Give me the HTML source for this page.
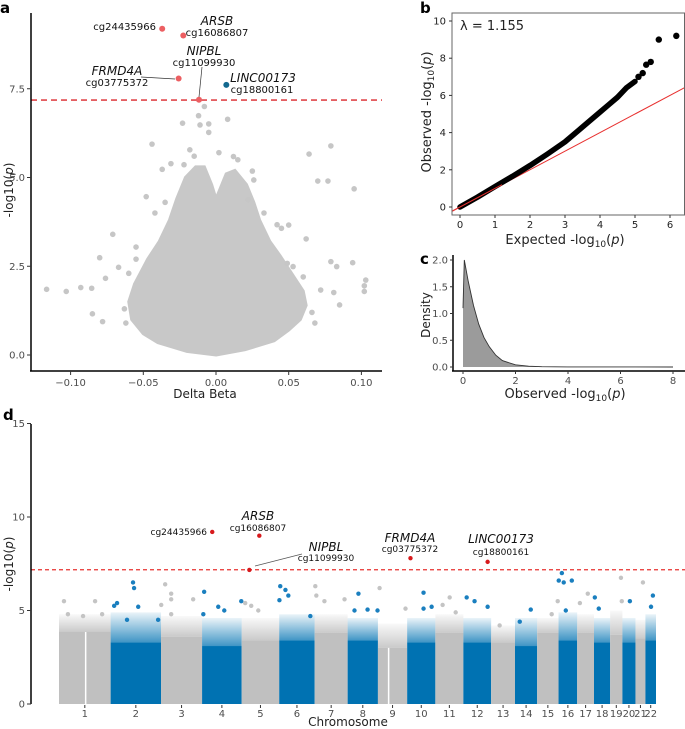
<!DOCTYPE html>
<html><head><meta charset="utf-8">
<style>
html,body{margin:0;padding:0;background:#fff;}
svg{display:block;font-family:"DejaVu Sans","Liberation Sans",sans-serif;}
.tk{font-size:10px;fill:#4d4d4d;}
.lab{font-size:12px;fill:#222;}
.pl{font-size:15px;font-weight:bold;fill:#000;}
.gene{font-size:12px;font-style:italic;fill:#111;}
.id{font-size:10px;fill:#111;}
</style></head>
<body>
<svg id="fig" width="685" height="729" viewBox="0 0 685 729">
<defs>
<linearGradient id="gBlue" x1="0" y1="1" x2="0" y2="0"><stop offset="0" stop-color="#0072b2" stop-opacity="0.75"/><stop offset="1" stop-color="#0072b2" stop-opacity="0.08"/></linearGradient>
<linearGradient id="gGray" x1="0" y1="1" x2="0" y2="0"><stop offset="0" stop-color="#c0c0c0" stop-opacity="0.85"/><stop offset="1" stop-color="#c0c0c0" stop-opacity="0.1"/></linearGradient>
<clipPath id="cb"><rect x="452" y="13" width="233" height="202"/></clipPath>
<clipPath id="cc"><rect x="453" y="250" width="232" height="121"/></clipPath>
</defs>
<g id="pa"></g>
<g id="pb"></g>
<g id="pc"></g>
<g id="pd"></g>
</svg>
<script>
// ===== Panel a: volcano data =====
const volcCloudBeta=[0,0.02,0.04,0.05,0.058,0.062,0.06,0.052,0.044,0.037,0.03,0.026,0.021,0.013,0.007,0.003,0,-0.003,-0.008,-0.014,-0.021,-0.027,-0.032,-0.039,-0.047,-0.056,-0.06,-0.058,-0.05,-0.04,-0.02];
const volcCloudP=[0,0.15,0.4,0.7,1.0,1.4,1.8,2.3,2.8,3.2,3.8,4.3,4.8,5.2,5.1,4.7,4.4,4.8,5.3,5.3,5.0,4.4,3.8,3.2,2.7,2.0,1.5,1.0,0.6,0.35,0.1];
const volcBeta=[-0.1165,-0.103,-0.093,-0.0855,-0.085,-0.078,-0.080,-0.076,-0.071,-0.067,-0.055,-0.055,-0.048,-0.044,-0.042,-0.037,-0.031,-0.023,-0.022,-0.018,-0.012,-0.011,-0.008,-0.005,-0.005,0.002,0.008,0.012,0.025,0.026,0.022,0.042,0.05,0.045,0.062,0.064,0.070,0.077,0.079,0.095,0.094,0.079,0.083,0.103,0.102,0.102,0.085,0.081,0.072,0.049,0.053,-0.063,-0.062,-0.06,0.066,0.068,0.06,-0.035,0.033,-0.015,0.015];
const volcP=[1.85,1.79,1.9,1.88,1.16,0.94,2.74,2.16,3.40,2.47,3.04,2.7,4.46,5.94,4.0,5.23,5.39,6.53,5.36,5.78,6.74,6.48,7.0,6.51,6.27,5.7,6.64,5.59,5.18,4.93,4.37,3.67,3.66,3.57,3.27,5.66,4.9,4.9,5.89,4.68,2.6,2.63,2.49,2.11,1.95,1.79,1.41,1.76,1.83,2.58,2.49,1.3,0.9,2.3,1.2,0.9,2.2,4.3,4.0,5.6,5.5];
const hitIds=["cg24435966","cg16086807","cg03775372","cg11099930","cg18800161"];
const hitGenes=["","ARSB","FRMD4A","NIPBL","LINC00173"];
const hitBeta=[-0.037,-0.0225,-0.0257,-0.0117,0.0071];
const hitP=[9.19,9.0,7.79,7.19,7.61];
const volcXTicks=[-0.10,-0.05,0.00,0.05,0.10];
const volcXTickLabels=["\u22120.10","\u22120.05","0.00","0.05","0.10"];
const volcYTicks=[0,2.5,5,7.5];
const volcYTickLabels=["0.0","2.5","5.0","7.5"];
const sigThreshold=7.18;

// ===== Panel b: QQ data =====
const qqExp=[0,0.5,1,1.5,2,2.5,3,3.5,4,4.25,4.5,4.75,5.0];
const qqObs=[0,0.53,1.1,1.65,2.23,2.85,3.5,4.3,5.1,5.5,5.9,6.4,6.75];
const qqTopExp=[5.1,5.22,5.32,5.45,5.68,6.18];
const qqTopObs=[7.0,7.2,7.65,7.8,9.0,9.2];
const qqXTicks=[0,1,2,3,4,5,6];
const qqYTicks=[0,2,4,6,8,10];
const lambdaText="\u03bb = 1.155";

// ===== Panel c: density data =====
const densX=[0,0.05,0.2,0.4,0.6,0.8,1.0,1.25,1.5,2,2.5,3,4,8];
const densY=[1.1,2.0,1.6,1.15,0.8,0.55,0.38,0.22,0.12,0.04,0.015,0.005,0.001,0];
const densXTicks=[0,2,4,6,8];
const densYTicks=[0,0.5,1,1.5,2];
const densYTickLabels=["0.0","0.5","1.0","1.5","2.0"];

// ===== Panel d: manhattan data =====
const chromNames=["1","2","3","4","5","6","7","8","9","10","11","12","13","14","15","16","17","18","19","20","21","22"];
const chromLenMb=[249,243,198,191,181,171,159,146,141,136,135,134,115,107,103,90,81,78,59,63,48,51];
const chromDenseTop=[3.85,3.3,3.6,3.1,3.4,3.4,3.8,3.4,3.0,3.3,3.8,3.3,3.3,3.1,3.8,3.4,3.8,3.3,3.7,3.3,3.5,3.4];
const chromSparseTop=[4.8,4.9,4.7,4.6,4.6,4.8,4.8,4.6,4.3,4.6,4.8,4.6,4.2,4.6,4.6,4.9,4.8,4.6,5.0,4.6,4.5,4.8];
const peakPos=[24,43,116,174,208,266,280,357,362,382,328,478,493,512,541,541,647,541,696,700,768,797,879,898,927,961,1067,1092,1106,1063,1212,1236,1241,1280,1377,1444,1425,1488,1536,1546,1671,1758,1758,1797,1884,1850,1913,1966,2004,2067,2125,2275,2222,2405,2376,2425,2410,2434,2473,2444,2550,2512,2584,2603,2710,2714,2753,2816,2864,2855];
const peakP=[5.5,4.8,4.7,5.5,4.8,5.25,5.4,6.5,6.2,5.2,4.5,4.5,5.3,6.4,5.9,5.6,5.6,4.8,4.8,6.0,5.2,5.0,5.5,5.4,5.25,5.0,6.3,6.1,5.8,5.55,4.7,6.3,5.8,5.5,5.6,5.9,5.0,5.05,5.0,6.2,5.1,5.95,5.1,5.2,5.7,5.3,4.9,5.7,5.5,5.2,4.2,5.05,4.4,5.5,4.8,7.0,6.6,6.5,6.6,5.0,5.9,5.4,5.7,5.1,6.75,5.5,5.5,6.5,5.8,5.2];
const mhHitIds=["cg24435966","cg16086807","cg11099930","cg03775372","cg18800161"];
const mhHitGenes=["","ARSB","NIPBL","FRMD4A","LINC00173"];
const mhHitPos=[739,966,918,1695,2067];
const mhHitP=[9.2,9.0,7.17,7.8,7.6];
const mhYTicks=[0,5,10,15];

const NS="http://www.w3.org/2000/svg";
function mk(parent,tag,attrs,name){
  const e=document.createElementNS(NS,tag);
  for(const k in attrs) e.setAttribute(k,attrs[k]);
  
  
  parent.appendChild(e);return e;
}
function txt(parent,x,y,s,cls,anchor,name,extra){
  const a=Object.assign({x:x,y:y,class:cls,'text-anchor':anchor||'start'},extra||{});
  const t=mk(parent,'text',a,name);t.textContent=s;return t;
}

// ---- Panel a ----
(function(){
  const g=document.getElementById('pa');
  const xA=v=>216+v*1454, yA=v=>355-v*35.5;
  txt(g,0,13,"a","pl","start","panel-label-a");
  let pts=volcCloudBeta.map((b,i)=>xA(b)+","+yA(volcCloudP[i])).join(" ");
  mk(g,'polygon',{points:pts,fill:'#c8c8c8',stroke:'#c8c8c8','stroke-width':3},'volcano-dense-cloud');
  volcBeta.forEach((b,i)=>{mk(g,'circle',{cx:xA(b),cy:yA(volcP[i]),r:2.8,fill:'#c6c6c6'},'volcano-point');});
  mk(g,'line',{x1:31,x2:382,y1:yA(sigThreshold),y2:yA(sigThreshold),stroke:'#e0474c','stroke-width':1.6,'stroke-dasharray':'6,4'},'significance-line');
  hitBeta.forEach((b,i)=>{mk(g,'circle',{cx:xA(b),cy:yA(hitP[i]),r:3,fill:i==4?'#13698f':'#ec5f62'},'hit-point-'+hitIds[i]);});
  txt(g,156,30,"cg24435966","id","end","label-cg24435966");
  txt(g,217,25,"ARSB","gene","middle","label-arsb");
  txt(g,217,36,"cg16086807","id","middle","label-cg16086807");
  txt(g,204,55,"NIPBL","gene","middle","label-nipbl");
  txt(g,204,66,"cg11099930","id","middle","label-cg11099930");
  txt(g,117,75,"FRMD4A","gene","middle","label-frmd4a");
  txt(g,117,86,"cg03775372","id","middle","label-cg03775372");
  txt(g,263,82,"LINC00173","gene","middle","label-linc00173");
  txt(g,262,93,"cg18800161","id","middle","label-cg18800161");
  mk(g,'line',{x1:141,y1:77,x2:175,y2:79,stroke:'#333','stroke-width':0.7},'leader-frmd4a');
  mk(g,'line',{x1:202,y1:67,x2:199,y2:97,stroke:'#333','stroke-width':0.7},'leader-nipbl');
  mk(g,'line',{x1:31,y1:13,x2:31,y2:371,stroke:'#000','stroke-width':1.5},'y-axis');
  mk(g,'line',{x1:30,y1:371,x2:382,y2:371,stroke:'#000','stroke-width':1.5},'x-axis');
  volcYTicks.forEach((v,i)=>{mk(g,'line',{x1:27,x2:31,y1:yA(v),y2:yA(v),stroke:'#333'},'y-tick');txt(g,25,yA(v)+3.5,volcYTickLabels[i],"tk","end","y-tick-label");});
  volcXTicks.forEach((v,i)=>{mk(g,'line',{x1:xA(v),x2:xA(v),y1:371,y2:375,stroke:'#333'},'x-tick');txt(g,xA(v),386,volcXTickLabels[i],"tk","middle","x-tick-label");});
  txt(g,205,398,"Delta Beta","lab","middle","x-axis-title");
  const yl=txt(g,0,0,"","lab","middle","y-axis-title",{transform:"translate(13,190) rotate(-90)"});
  yl.innerHTML='-log10(<tspan font-style="italic">p</tspan>)';
})();

// ---- Panel b ----
(function(){
  const g=document.getElementById('pb');
  const xB=v=>460+v*35, yB=v=>207-v*18.6;
  txt(g,420,13,"b","pl","start","panel-label-b");
  const cg=mk(g,'g',{'clip-path':'url(#cb)'},'qq-plot-area');
  mk(cg,'line',{x1:xB(-1),y1:yB(-1),x2:xB(7),y2:yB(7),stroke:'#e8302f','stroke-width':1},'expected-line');
  mk(cg,'polyline',{points:qqExp.map((e,i)=>xB(e)+","+yB(qqObs[i])).join(" "),fill:'none',stroke:'#000','stroke-width':5.5,'stroke-linecap':'round','stroke-linejoin':'round'},'qq-points-dense');
  mk(cg,'line',{x1:xB(-1),y1:yB(-1),x2:xB(1.2),y2:yB(1.2),stroke:'#e8302f','stroke-width':1},'expected-line-front');
  qqTopExp.forEach((e,i)=>{mk(cg,'circle',{cx:xB(e),cy:yB(qqTopObs[i]),r:3.2,fill:'#000'},'qq-point');});
  mk(g,'rect',{x:452,y:13,width:232.5,height:202,fill:'none',stroke:'#666','stroke-width':1},'qq-frame');
  qqYTicks.forEach(v=>{mk(g,'line',{x1:449,x2:452,y1:yB(v),y2:yB(v),stroke:'#333'},'y-tick');txt(g,446,yB(v)+3.5,String(v),"tk","end","y-tick-label",{style:"fill:#222"});});
  qqXTicks.forEach(v=>{mk(g,'line',{x1:xB(v),x2:xB(v),y1:215,y2:218,stroke:'#333'},'x-tick');txt(g,xB(v),228,String(v),"tk","middle","x-tick-label",{style:"fill:#222"});});
  txt(g,460,30,lambdaText,"lab","start","lambda-label",{style:"font-size:13px"});
  const xl=txt(g,565,244,"","lab","middle","x-axis-title",{style:"font-size:13px"});
  xl.innerHTML='Expected -log<tspan font-size="9" dy="3">10</tspan><tspan dy="-3">(</tspan><tspan font-style="italic">p</tspan>)';
  const yl=txt(g,0,0,"","lab","middle","y-axis-title",{transform:"translate(431,112) rotate(-90)",style:"font-size:13px"});
  yl.innerHTML='Observed -log<tspan font-size="9" dy="3">10</tspan><tspan dy="-3">(</tspan><tspan font-style="italic">p</tspan>)';
})();

// ---- Panel c ----
(function(){
  const g=document.getElementById('pc');
  const xC=v=>463+v*26.25, yC=v=>367-v*53.5;
  txt(g,420,264,"c","pl","start","panel-label-c");
  const cg=mk(g,'g',{'clip-path':'url(#cc)'},'density-area');
  let d="M"+xC(densX[0])+","+yC(0);
  densX.forEach((x,i)=>{d+=" L"+xC(x)+","+yC(densY[i]);});
  d+=" L"+xC(densX[densX.length-1])+","+yC(0)+" Z";
  mk(cg,'path',{d:d,fill:'#9b9b9b',stroke:'none'},'density-fill');
  mk(cg,'polyline',{points:densX.map((x,i)=>xC(x)+","+yC(densY[i])).join(" "),fill:'none',stroke:'#333','stroke-width':0.9},'density-curve');
  mk(g,'line',{x1:453,y1:255,x2:453,y2:371,stroke:'#000','stroke-width':1.5},'y-axis');
  mk(g,'line',{x1:452,y1:371,x2:685,y2:371,stroke:'#000','stroke-width':1.5},'x-axis');
  densYTicks.forEach((v,i)=>{mk(g,'line',{x1:450,x2:453,y1:yC(v),y2:yC(v),stroke:'#333'},'y-tick');txt(g,448,yC(v)+3.5,densYTickLabels[i],"tk","end","y-tick-label");});
  densXTicks.forEach(v=>{mk(g,'line',{x1:xC(v),x2:xC(v),y1:371,y2:374,stroke:'#333'},'x-tick');txt(g,xC(v),384,String(v),"tk","middle","x-tick-label");});
  txt(g,0,0,"Density","lab","middle","y-axis-title",{transform:"translate(430,315) rotate(-90)",style:"font-size:12px"});
  const xl=txt(g,565,398,"","lab","middle","x-axis-title",{style:"font-size:13px"});
  xl.innerHTML='Observed -log<tspan font-size="9" dy="3">10</tspan><tspan dy="-3">(</tspan><tspan font-style="italic">p</tspan>)';
})();

// ---- Panel d ----
(function(){
  const g=document.getElementById('pd');
  const total=chromLenMb.reduce((a,b)=>a+b,0);
  const xD=mb=>59+mb*(597/total), yD=v=>704-v*18.7;
  txt(g,3,420,"d","pl","start","panel-label-d");
  const starts=[];let c=0;chromLenMb.forEach(l=>{starts.push(c);c+=l;});
  const colOf=i=>i%2?'#0072b2':'#c0c0c0';
  chromLenMb.forEach((l,i)=>{
    const x0=xD(starts[i]),x1=xD(starts[i]+l);
    mk(g,'rect',{x:x0,y:yD(chromSparseTop[i]),width:x1-x0,height:yD(chromDenseTop[i])-yD(chromSparseTop[i]),fill:i%2?'url(#gBlue)':'url(#gGray)'},'chrom-'+chromNames[i]+'-sparse');
    mk(g,'rect',{x:x0,y:yD(chromDenseTop[i]),width:x1-x0,height:yD(0)-yD(chromDenseTop[i]),fill:colOf(i)},'chrom-'+chromNames[i]+'-block');
  });
  mk(g,'rect',{x:xD(starts[0]+125),y:yD(3.85),width:1.5,height:yD(0)-yD(3.85),fill:'#fff'},'chrom-1-centromere');
  mk(g,'rect',{x:xD(starts[8]+48),y:yD(3.0),width:1.5,height:yD(0)-yD(3.0),fill:'#fff'},'chrom-9-centromere');
  peakPos.forEach((p,i)=>{
    let ci=0;for(let k=0;k<starts.length;k++){if(p>=starts[k])ci=k;}
    mk(g,'circle',{cx:xD(p),cy:yD(peakP[i]),r:2.2,fill:ci%2?'#1a7fbf':'#c4c4c4'},'manhattan-point');
  });
  mk(g,'line',{x1:31,x2:685,y1:yD(sigThreshold),y2:yD(sigThreshold),stroke:'#e8302f','stroke-width':1.2,'stroke-dasharray':'4,3'},'significance-line');
  mhHitPos.forEach((p,i)=>{mk(g,'circle',{cx:xD(p),cy:yD(mhHitP[i]),r:2.2,fill:'#d7191c'},'hit-point-'+mhHitIds[i]);});
  txt(g,207,535,"cg24435966","id","end","label-cg24435966",{style:"font-size:9px"});
  txt(g,258,520,"ARSB","gene","middle","label-arsb");
  txt(g,258,531,"cg16086807","id","middle","label-cg16086807",{style:"font-size:9px"});
  txt(g,326,551,"NIPBL","gene","middle","label-nipbl");
  txt(g,326,561,"cg11099930","id","middle","label-cg11099930",{style:"font-size:9px"});
  txt(g,410,542,"FRMD4A","gene","middle","label-frmd4a");
  txt(g,410,552,"cg03775372","id","middle","label-cg03775372",{style:"font-size:9px"});
  txt(g,501,543,"LINC00173","gene","middle","label-linc00173");
  txt(g,501,555,"cg18800161","id","middle","label-cg18800161",{style:"font-size:9px"});
  mk(g,'line',{x1:255,y1:566,x2:302,y2:554,stroke:'#555','stroke-width':0.7},'leader-nipbl');
  mk(g,'line',{x1:31,y1:424,x2:31,y2:704,stroke:'#000','stroke-width':1.5},'y-axis');
  mhYTicks.forEach(v=>{mk(g,'line',{x1:27,x2:31,y1:yD(v),y2:yD(v),stroke:'#333'},'y-tick');txt(g,25,yD(v)+3.5,String(v),"tk","end","y-tick-label");});
  chromLenMb.forEach((l,i)=>{const xm=xD(starts[i]+l/2);mk(g,'line',{x1:xm,x2:xm,y1:705,y2:708,stroke:'#333'},'x-tick');txt(g,xm,717,chromNames[i],"tk","middle","chrom-label-"+chromNames[i]);});
  txt(g,348,726,"Chromosome","lab","middle","x-axis-title");
  const yl=txt(g,0,0,"","lab","middle","y-axis-title",{transform:"translate(13,564) rotate(-90)"});
  yl.innerHTML='-log10(<tspan font-style="italic">p</tspan>)';
})();
</script>
</body></html>
